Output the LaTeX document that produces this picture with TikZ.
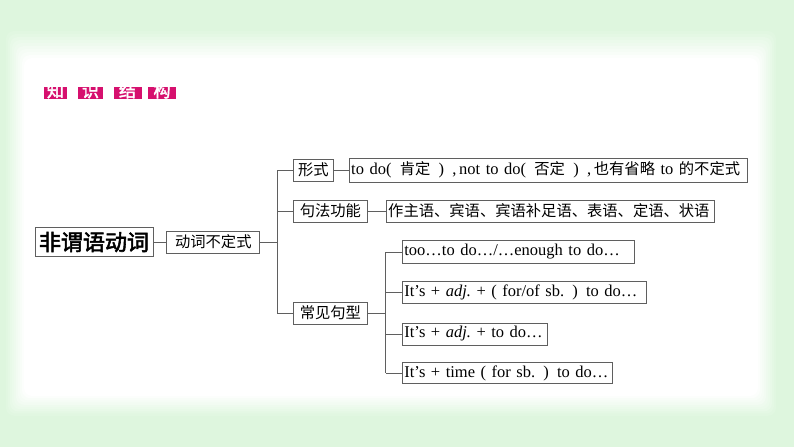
\documentclass[tikz,border=0pt]{standalone}
\usepackage{fontspec}
\setmainfont{Liberation Serif}
\newfontfamily\cjk{Noto Sans CJK SC}
\newfontfamily\cjkbf[FakeBold=2.5]{Noto Sans CJK SC}
\newcommand{\zh}[1]{{\cjk\fontsize{15.3}{17}\selectfont #1}}
\usepackage{tikz}
\usetikzlibrary{positioning}
\definecolor{bggreen}{RGB}{222,246,222}
\definecolor{titlered}{RGB}{214,16,110}
\definecolor{boxgray}{RGB}{95,95,95}

\begin{document}
\begin{tikzpicture}[
    x=1pt, y=-1pt,
    box/.style={rectangle, draw=boxgray, line width=0.8pt, inner sep=2pt, minimum height=22pt, fill=white, font=\fontsize{16.5}{18}\selectfont},
    wbox/.style={box, text width=#1, align=left},
    rootbox/.style={box, minimum height=29pt, font=\cjkbf\fontsize{22}{24}\selectfont},
    titlech/.style={fill=titlered, text=white, inner xsep=3pt, inner ysep=0pt, text height=10pt, text depth=2pt, font=\cjkbf\fontsize{17}{17}\selectfont},
    conn/.style={draw=boxgray, line width=0.8pt}
]
\useasboundingbox (0,0) rectangle (794,447);
% Background
\fill[bggreen] (0,0) rectangle (794,447);
\foreach \i in {0,...,10}
  \fill[bggreen!\the\numexpr100-10*\i\relax!white, rounded corners=8pt]
    (4+2*\i,28+3*\i) rectangle (778-2*\i,418-2.2*\i);
% Title
\node[titlech, minimum width=22pt] (ti1) at (55.5,93) {知};
\node[titlech, minimum width=25pt] (ti2) at (90.5,93) {识};
\node[titlech, minimum width=28pt] (ti3) at (127.5,93) {结};
\node[titlech, minimum width=28pt] (ti4) at (162,93) {构};
% Blocks
\node[rootbox, minimum width=118pt] (root) at (94,242) {非谓语动词};
\node[box, minimum width=93pt, right=13pt of root] (verb) {\zh{动词不定式}};
\coordinate[right=17pt of verb] (trunk);
\node[box, minimum width=40pt, anchor=west] (form) at (293,170) {\zh{形式}};
\node[box, minimum width=74pt, anchor=west] (func) at (293,211) {\zh{句法功能}};
\node[box, minimum width=74pt, anchor=west] (pat) at (293,313) {\zh{常见句型}};
\node[wbox=394pt, minimum height=24pt, right=15pt of form] (formtxt)
  {to do(\enspace\zh{肯定}\enspace)\enspace,\,not to do(\enspace\zh{否定}\enspace)\enspace,\,\zh{也有省略} to \zh{的不定式}};
\node[wbox=324pt, right=18pt of func] (functxt)
  {\zh{作主语、宾语、宾语补足语、表语、定语、状语}};
\coordinate[right=18pt of pat] (ptrunk);
\node[wbox=228pt, minimum height=23pt, anchor=west] (p1) at (402,252)
  {too…to do…/…enough to do…};
\node[wbox=240pt, anchor=west] (p2) at (402,292)
  {It’s + \textit{adj.}\ + ( for/of sb. ) to do…};
\node[wbox=141pt, anchor=west] (p3) at (402,334)
  {It’s + \textit{adj.}\ + to do…};
\node[wbox=206pt, minimum height=21pt, anchor=west] (p4) at (402,373)
  {It’s + time ( for sb. ) to do…};
% Connectors
\draw[conn] (root) -- (verb);
\draw[conn] (verb) -- (trunk);
\draw[conn] (trunk |- form.west) -- (trunk |- pat.west);
\draw[conn] (trunk |- form.west) -- (form);
\draw[conn] (trunk |- func.west) -- (func);
\draw[conn] (trunk |- pat.west) -- (pat);
\draw[conn] (form) -- (formtxt);
\draw[conn] (func) -- (functxt);
\draw[conn] (pat) -- (ptrunk);
\draw[conn] (ptrunk |- p1.west) -- (ptrunk |- p4.west);
\foreach \p in {p1,p2,p3,p4}
  \draw[conn] (ptrunk |- \p.west) -- (\p);
\end{tikzpicture}
\end{document}
